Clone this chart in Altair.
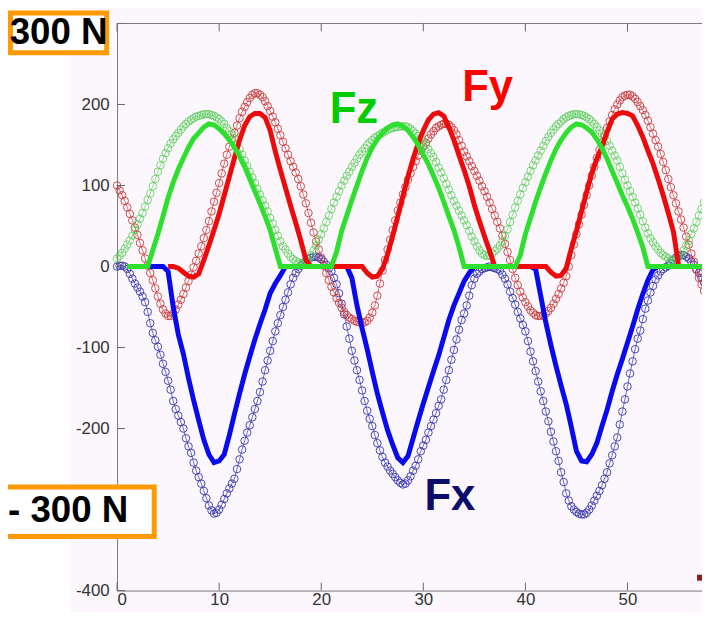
import altair as alt
import numpy as np
import pandas as pd

# ---------------- data ----------------
# measured samples every 0.25 (x = 0 ... 57.5)
x_meas = np.round(np.arange(0, 57.5 + 1e-9, 0.25), 2)

fx_meas = [
    0, 1, 1, 0,
    -3, -9, -15, -21,
    -26, -31, -37, -44,
    -56, -70, -82, -91,
    -99, -109, -120, -130,
    -141, -152, -166, -176,
    -184, -192, -200, -212,
    -222, -230, -242, -252,
    -260, -268, -277, -286,
    -295, -301, -305, -304,
    -300, -294, -287, -280,
    -274, -268, -262, -250,
    -238, -226, -215, -205,
    -196, -186, -176, -166,
    -155, -142, -128, -116,
    -104, -92, -80, -70,
    -60, -50, -41, -32,
    -22, -14, -8, -3,
    1, 4, 7, 9,
    11, 12, 12, 11,
    9, 6, 2, -2,
    -6, -14, -22, -33,
    -46, -59, -74, -89,
    -104, -116, -128, -140,
    -153, -166, -178, -188,
    -197, -208, -218, -227,
    -235, -242, -247, -252,
    -256, -260, -264, -267,
    -269, -268, -264, -259,
    -252, -246, -238, -228,
    -221, -214, -205, -197,
    -189, -181, -172, -164,
    -152, -140, -128, -115,
    -103, -90, -78, -66,
    -58, -48, -36, -23,
    -15, -9, -6, -3,
    -2, -1, 0, -1,
    -2, -3, -5, -10,
    -15, -22, -31, -39,
    -47, -56, -64, -72,
    -80, -92, -105, -117,
    -129, -142, -154, -166,
    -179, -191, -204, -216,
    -228, -240, -254, -266,
    -280, -289, -296, -300,
    -303, -305, -306, -306,
    -304, -300, -295, -289,
    -283, -277, -270, -262,
    -254, -243, -233, -222,
    -211, -195, -179, -164,
    -148, -132, -117, -102,
    -89, -79, -65, -52,
    -42, -32, -24, -16,
    -11, -6, -3, -1,
    1, 4, 8, 11,
    13, 14, 14, 12,
    10, 6, 2, -3,
    -8, -14, -20,
]

fy_meas = [
    100, 94, 88, 81,
    73, 65, 57, 48,
    39, 29, 20, 10,
    1, -8, -17, -27,
    -37, -46, -53, -58,
    -61, -61, -58, -53,
    -47, -41, -34, -26,
    -18, -10, -1, 7,
    16, 25, 35, 45,
    56, 68, 80, 91,
    103, 115, 127, 138,
    148, 157, 165, 174,
    183, 191, 197, 203,
    208, 212, 214, 214,
    212, 209, 204, 198,
    192, 185, 178, 170,
    162, 154, 146, 138,
    130, 123, 116, 108,
    99, 89, 78, 66,
    54, 42, 31, 21,
    11, 1, -8, -17,
    -25, -32, -39, -45,
    -51, -56, -60, -63,
    -65, -67, -68, -69,
    -69, -69, -67, -63,
    -57, -48, -36, -21,
    -5, 8, 21, 33,
    45, 57, 69, 79,
    89, 98, 107, 115,
    123, 130, 137, 143,
    148, 153, 158, 163,
    167, 171, 173, 175,
    176, 176, 175, 172,
    168, 163, 156, 149,
    142, 136, 130, 124,
    118, 112, 106, 99,
    93, 86, 79, 71,
    63, 55, 47, 38,
    28, 18, 8, -3,
    -14, -23, -31, -38,
    -44, -49, -54, -57,
    -60, -61, -61, -60,
    -58, -55, -51, -46,
    -40, -34, -27, -20,
    -12, 0, 14, 27,
    40, 52, 64, 76,
    88, 100, 112, 123,
    134, 144, 153, 162,
    171, 179, 187, 194,
    200, 205, 209, 211,
    212, 212, 210, 207,
    203, 198, 193, 187,
    180, 172, 164, 156,
    148, 139, 129, 119,
    108, 98, 88, 78,
    68, 58, 48, 37,
    27, 16, 6, -4,
    -14, -22, -30,
]

fz_meas = [
    10, 13, 17, 22,
    27, 32, 38, 45,
    52, 59, 66, 74,
    82, 90, 99, 108,
    117, 125, 133, 140,
    146, 152, 157, 161,
    165, 169, 173, 176,
    179, 181, 183, 185,
    186, 187, 188, 188,
    188, 187, 186, 184,
    182, 179, 176, 171,
    167, 163, 158, 151,
    145, 138, 131, 124,
    117, 110, 103, 96,
    89, 82, 75, 68,
    60, 53, 45, 38,
    31, 25, 21, 16,
    12, 9, 7, 5,
    4, 4, 6, 9,
    14, 20, 26, 33,
    40, 47, 55, 63,
    71, 79, 86, 93,
    100, 106, 112, 117,
    123, 128, 133, 138,
    142, 146, 150, 153,
    156, 159, 161, 163,
    165, 167, 169, 170,
    171, 172, 172, 173,
    173, 173, 172, 170,
    167, 164, 161, 158,
    155, 150, 145, 140,
    135, 129, 122, 116,
    109, 102, 95, 88,
    81, 75, 69, 63,
    57, 51, 44, 37,
    31, 25, 20, 16,
    14, 13, 14, 16,
    19, 22, 26, 31,
    38, 46, 55, 64,
    73, 81, 89, 97,
    104, 111, 118, 125,
    131, 137, 143, 149,
    155, 160, 165, 169,
    173, 176, 179, 182,
    184, 186, 187, 188,
    188, 188, 187, 186,
    184, 182, 179, 176,
    172, 168, 164, 160,
    155, 149, 143, 137,
    131, 123, 115, 107,
    100, 93, 86, 79,
    72, 64, 56, 48,
    41, 35, 30, 25,
    21, 17, 14, 12,
    10, 8, 7, 8,
    11, 15, 20, 26,
    32, 40, 47, 55,
    63, 71, 79,
]

# model curves every 0.5 (x = 1.0 ... 57.5)
x_model = np.round(np.arange(1.0, 57.5 + 1e-9, 0.5), 2)

fx_model = [
    0, 0, 0, 0, 0, 0, 0, 0, -6, -50,
    -84, -108, -138, -165, -190, -214, -232, -242, -240, -232,
    -208, -182, -157, -133, -111, -90, -71, -53, -33, -21,
    -11, 0, 0, 0, 0, 0, 0, 0, 0, 0,
    0, 0, 0, 0, -14, -48, -76, -102, -130, -157,
    -180, -202, -220, -236, -242, -234, -212, -190, -169, -149,
    -129, -110, -88, -66, -48, -33, -18, -8, 0, 0,
    0, 0, 0, 0, 0, 0, 0, 0, 0, 0,
    -3, -36, -69, -97, -123, -147, -170, -198, -228, -240,
    -241, -232, -218, -197, -177, -154, -133, -114, -94, -74,
    -53, -34, -17, -4, 0, 0, 0, 0, 0, 0,
    0, 0, 0, 0,
]

fy_model = [
    None, None, None, None, None, None, None, None, 0, 0,
    -2, -7, -12, -13, -9, 8, 26, 45, 65, 88,
    111, 134, 156, 174, 185, 189, 189, 184, 168, 142,
    119, 97, 75, 54, 32, 8, 0, 0, 0, 0,
    0, 0, 0, 0, 0, 0, 0, -8, -13, -12,
    -3, 15, 38, 62, 87, 111, 133, 152, 168, 181,
    188, 190, 186, 172, 156, 137, 119, 99, 76, 56,
    37, 19, 0, 0, 0, 0, 0, 0, 0, 0,
    0, 0, 0, -7, -12, -11, -2, 22, 44, 68,
    92, 115, 133, 148, 166, 182, 188, 190, 189, 186,
    174, 160, 143, 127, 108, 88, 66, 43, 2, 0,
    0, 0, 0, 0,
]

fz_model = [
    0, 0, 0, 0, 0, 20, 40, 62, 85, 104,
    120, 134, 147, 158, 165, 172, 176, 175, 170, 164,
    156, 147, 136, 123, 108, 93, 78, 62, 45, 22,
    0, 0, 0, 0, 0, 0, 0, 0, 0, 0,
    0, 18, 44, 63, 82, 100, 118, 134, 147, 157,
    165, 171, 175, 176, 173, 168, 160, 150, 138, 126,
    112, 97, 80, 62, 45, 24, 0, 0, 0, 0,
    0, 0, 0, 0, 0, 0, 0, 14, 40, 60,
    80, 98, 115, 131, 145, 156, 165, 172, 176, 175,
    171, 166, 157, 146, 133, 118, 103, 88, 74, 59,
    42, 24, 0, 0, 0, 0, 0, 0, 0, 0,
    0, 0, 0, 0,
]

label_text = ["Fz", "Fy", "Fx"]
label_x = [23.2, 36.3, 32.6]
label_y = [193, 220, -285]
label_color = ["#00cc00", "#ff0000", "#0c0c6c"]

x_ticks = [0, 10, 20, 30, 40, 50]
y_ticks = [-400, -300, -200, -100, 0, 100, 200, 300]
y_labels = [-400, -200, -100, 0, 100, 200]

# ---------------- chart ----------------
W, H = 590, 572
FONT = "Liberation Sans"
xs = alt.Scale(domain=[0, 57.3], nice=False, zero=False)
ys = alt.Scale(domain=[-400, 300], nice=False, zero=False)

XA = alt.Axis(
    values=x_ticks, title=None, grid=False, ticks=False, tickSize=0,
    labelFont=FONT, labelFontSize=17, labelColor="#333333", labelPadding=1,
    domainColor="#777777", domainWidth=1,
)
YA = alt.Axis(
    values=y_labels, title=None, grid=False, ticks=False, tickSize=0,
    labelExpr="'' + datum.value",
    labelFont=FONT, labelFontSize=17, labelColor="#333333", labelPadding=8,
    domainColor="#777777", domainWidth=1,
)


def X(field):
    return alt.X(field, scale=xs, axis=XA)


def Y(field):
    return alt.Y(field, scale=ys, axis=YA)


meas = pd.DataFrame({"x": x_meas, "fx": fx_meas, "fy": fy_meas, "fz": fz_meas})
model = pd.DataFrame({"x": x_model, "fx": fx_model, "fy": fy_model, "fz": fz_model})
labels = pd.DataFrame({"x": label_x, "y": label_y, "t": label_text, "c": label_color})
one = pd.DataFrame({"a": [0]})


def measured(col, color, op):
    base = alt.Chart(meas).encode(x=X("x:Q"), y=Y(f"{col}:Q"))
    line = base.mark_line(color=color, strokeWidth=0.8, opacity=op)
    pts = base.mark_point(shape="circle", filled=False, size=58, strokeWidth=1.0,
                          color=color, opacity=op)
    return [line, pts]


def modelled(col, color):
    return alt.Chart(model).mark_line(color=color, strokeWidth=5).encode(
        x=X("x:Q"), y=Y(f"{col}:Q")
    )


white_strip = alt.Chart(one).mark_rect(fill="white").encode(
    x=alt.value(-115), x2=alt.value(-47), y=alt.value(-20), y2=alt.value(H + 30)
)

ytick = alt.Chart(pd.DataFrame({"v": y_ticks})).mark_rule(color="#666666", strokeWidth=1).encode(
    y=Y("v:Q"), x=alt.value(0), x2=alt.value(8)
)
xtick_b = alt.Chart(pd.DataFrame({"v": x_ticks})).mark_rule(color="#666666", strokeWidth=1).encode(
    x=X("v:Q"), y=alt.value(H - 8), y2=alt.value(H)
)
xtick_t = alt.Chart(pd.DataFrame({"v": x_ticks})).mark_rule(color="#666666", strokeWidth=1).encode(
    x=X("v:Q"), y=alt.value(0), y2=alt.value(8)
)
top_line = alt.Chart(one).mark_rule(color="#777777", strokeWidth=1).encode(
    x=alt.value(0), x2=alt.value(W), y=alt.value(0)
)

series_labels = alt.Chart(labels).mark_text(
    font=FONT, fontWeight="bold", fontSize=44, align="center", baseline="middle"
).encode(
    x=X("x:Q"),
    y=Y("y:Q"),
    text="t:N",
    color=alt.Color("c:N", scale=None),
)

box_top = alt.Chart(one).mark_rect(fill="white", stroke="#ff9a00", strokeWidth=5).encode(
    x=alt.value(-107.5), x2=alt.value(-10.5), y=alt.value(-10.5), y2=alt.value(29.5)
)
txt_top = alt.Chart(one).mark_text(
    text="300 N", font=FONT, fontWeight="bold", fontSize=37, color="black",
    align="center", baseline="middle"
).encode(x=alt.value(-59), y=alt.value(10))

box_bot = alt.Chart(one).mark_rect(fill="white", stroke="#ff9a00", strokeWidth=5).encode(
    x=alt.value(-140), x2=alt.value(37.5), y=alt.value(467.5), y2=alt.value(517.5)
)
txt_bot = alt.Chart(one).mark_text(
    text="- 300 N", font=FONT, fontWeight="bold", fontSize=37, color="black",
    align="left", baseline="middle"
).encode(x=alt.value(-110), y=alt.value(492))

red_bit = alt.Chart(one).mark_rect(fill="#8b1a1a").encode(
    x=alt.value(585), x2=alt.value(592), y=alt.value(556), y2=alt.value(562)
)

layers = [white_strip]
layers += measured("fx", "#3535b0", 0.9)
layers += measured("fy", "#c83c3c", 0.9)
layers += measured("fz", "#55cc55", 0.8)
layers += [
    modelled("fx", "#0a0aee"),
    modelled("fy", "#ee0a0a"),
    modelled("fz", "#2ee02e"),
    ytick, xtick_b, xtick_t, top_line,
    series_labels,
    box_top, txt_top, box_bot, txt_bot,
    red_bit,
]

chart = alt.layer(*layers).properties(
    width=W,
    height=H,
    padding={"left": 110, "top": 13, "right": 0, "bottom": 19},
    autosize=alt.AutoSizeParams(type="none"),
    background="#fcf7fc",
).configure_view(strokeWidth=0)

chart.save("out.html", embed_options={"renderer": "svg", "actions": False})
